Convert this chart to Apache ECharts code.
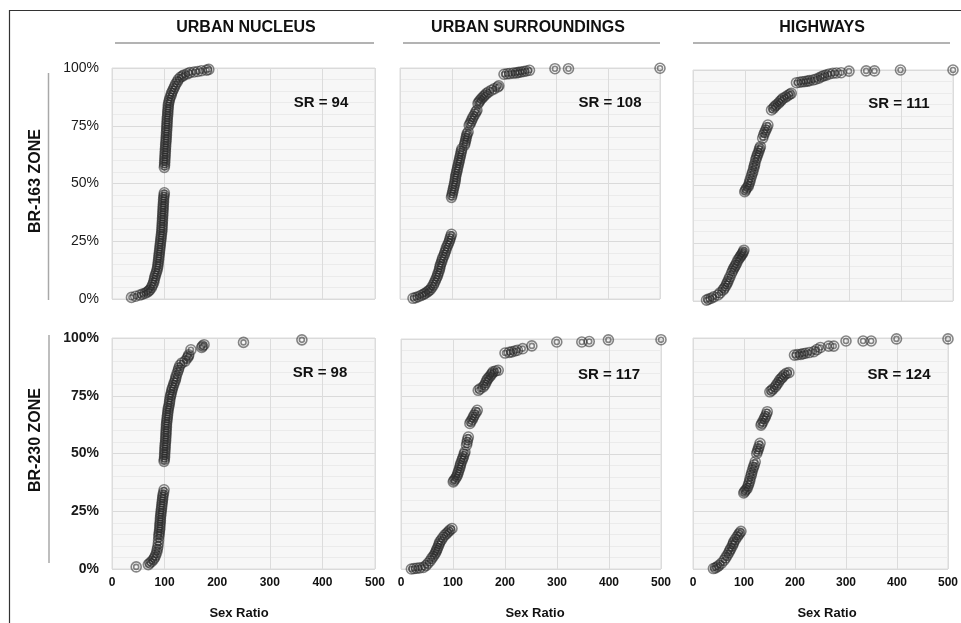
<!DOCTYPE html>
<html>
<head>
<meta charset="utf-8">
<script src="https://cdn.jsdelivr.net/npm/echarts@6/dist/echarts.min.js"></script>
<style>
html,body{margin:0;padding:0;background:#fff;}
#chart{width:961px;height:623px;}
</style>
</head>
<body>
<div id="chart"></div>
<script>
// ---- Data: [sex ratio, cumulative %] ----
const columnTitles = ['URBAN NUCLEUS', 'URBAN SURROUNDINGS', 'HIGHWAYS'];
const rowTitles = ['BR-163 ZONE', 'BR-230 ZONE'];
const srLabels = ['SR = 94', 'SR = 108', 'SR = 111', 'SR = 98', 'SR = 117', 'SR = 124'];
const xTicks = [0, 100, 200, 300, 400, 500];
const yTicks = [0, 25, 50, 75, 100];

const nucleus163 = [[37,0.7],[45,1.2],[53,1.7],[58,2.1],[63,2.5],[67,3],[70,3.5],[72,4],[75,5],[77,6],[79,7],[80,8],[81,9],[82,10],[83.5,11],[85,12],[86,13],[87,14],[87.5,15],[88,16],[88.5,17],[89,18],[89.5,19],[90,20],[90.5,21],[91,22],[91.5,23],[92,24],[92.5,25],[93,26],[93.5,27],[94,28],[94.5,29],[95,30],[95,31],[95.5,32],[95.5,33],[96,34],[96,35],[96.5,36],[96.5,37],[97,38],[97,39],[97.5,40],[97.5,41],[98,42],[98,43],[98.5,44],[99,45],[99.5,46],
[99.5,57],[100,58],[100,59],[100.5,60],[100.5,61],[101,62],[101,63],[101.5,64],[101.5,65],[102,66],[102,67],[102.5,68],[103,69],[103,70],[103.5,71],[103.5,72],[104,73],[104,74],[104.5,75],[104.5,76],[105,77],[105,78],[105.5,79],[106,80],[106,81],[106.5,82],[107,83],[107,84],[108,85],[109,86],[110,87],[112,88],[113,89],[115,90],[117,91],[119,92],[121,93],[124,94],[126,95],[130,96],[134,96.5],[137,97],[143,97.5],[148,98],[156,98.3],[163,98.5],[170,98.8],[180,99.1],[184,99.4]];

const surround163 = [[25,0.3],[30,0.6],[35,1],[40,1.5],[45,2],[48,2.4],[52,3],[55,3.5],[58,4],[61,5],[64,6],[66,7],[68,8],[70,9],[72,10],[73,11],[75,12],[76,13],[77,14],[78,15],[80,16],[81,17],[82.5,18],[85,19],[86,20],[88,21],[89,22],[91,23],[93,24],[95,25],[96,26],[97.5,27],[99,28],
[99,44],[100,45],[101,46],[102,47],[103,48],[104,49],[105,50],[106,51],[106.5,52],[107,53],[108,54],[109,55],[110,56],[111,57],[112,58],[113,59],[114,60],[115,61],[116,62],[117,63],[118,64],[119,65],
[124,66.6],[125,67.5],[126,68.5],[127,69.5],[128,70.5],[129,71.5],[131,72.3],
[133,75.2],[135,76],[137,77],[139,78],[141,79],[144,80],[146,81],[148,81.7],
[150,84.6],[152,85.3],[154,86],[157,86.8],[160,87.5],[163,88.2],[166,88.9],[170,89.6],[176,90.4],[181,91],[188,91.8],[190,92.3],
[200,97.3],[206,97.5],[211,97.6],[218,97.8],[224,97.9],[228,98.1],[233,98.3],[238,98.5],[243,98.7],[249,99],[298,99.7],[324,99.7],[500,99.9]];

const highway163 = [[26,0.4],[30,0.8],[35,1.2],[40,1.8],[48,2.6],[52,3.5],[58,4.8],[60,5.5],[63,6.5],[65,7.5],[67,8.4],[69,9.5],[71,10.5],[74,12],[76,13],[78,14],[80,14.8],[82,15.5],[84,16.5],[86.5,17.7],[89,18.5],[91,19.2],[93,19.9],[95,20.5],[96.5,21.2],[98,22],
[99.5,47.3],[101,48],[103,48.8],[106,49.5],[107.5,50.5],[109,51.5],[110,52.5],[112,53.8],[113.5,55],[115,56],[116.7,57.4],[118,58.5],[119,59.5],[120.6,61],[122,62],[123.5,63],[125,63.9],[127,65],[128,66],[129.6,66.8],
[134,70.5],[136,71.9],[138,73],[140,74],[142,75],[144,76.2],
[151,82.7],[155,83.5],[157,84.2],[160,84.8],[164,85.5],[167,86.3],[170,87],[173,87.7],[178,88.3],[182,88.9],[186,89.5],[189,89.9],
[199,94.5],[205,94.7],[210,94.9],[215,95],[220,95.2],[224,95.4],[231,95.7],[236,96],[242,96.5],[247,97.1],[251,97.5],[256,97.8],[262,98.3],[269,98.6],[276,98.7],[285,98.8],[300,99.5],[333,99.6],[349,99.6],[399,100],[500,100]];

const nucleus230 = [[46,0.9],[69,1.9],[72,2.6],[75.5,3.3],[79,4.2],[81,5],[83,6],[85,7.2],[86,8.4],[87,9.5],[88,11],[88.5,12.5],[89,14],[89.5,15],[90,16],[90.5,17],[91,18],[91,19],[91.5,20],[92,21],[92,22],[92.5,23],[93,24],[93.5,25],[94,26],[94.5,27],[95,28],[95.5,29],[96,30],[96.5,31],[97,32],[98,33],[99,34.3],
[99,46.6],[99.5,47.5],[100,48.5],[100,49.5],[100.5,50.5],[100.5,51.5],[101,52.5],[101,53.5],[101.5,54.5],[102,55.5],[102,56.5],[102.5,57.5],[102.5,58.5],[103,59.5],[103,60.5],[103.5,61.5],[103.5,62.5],[104,63.5],[104.5,64.5],[105,65.5],[105.5,66.5],[106,67.5],[106.5,68.5],[107,69.5],[108,70.4],[109,71.5],[109.5,72.5],[110,73.5],[111,74.7],[112,75.5],[113,76.5],[114,77.5],[115,78.4],[117,79.5],[118,80.5],[120,81.5],[121,82.5],[122,83.5],[124,84.8],[126,86],[127,87],[129,88.2],[133,89.2],[139,90],[143,91.3],[145,92],[146,92.7],[150,94.9],[170.5,95.9],[172,96.5],[175,97.1],[250,98.1],[361,99.2]];

const surround230 = [[20,0],[25,0.2],[30,0.3],[36,0.5],[43,0.7],[48,1.5],[52,2.5],[56,3.5],[59,4.6],[62,5.5],[65,6.5],[67,7.3],[68.5,8.2],[70,9],[72,10],[73.5,11],[75,11.9],[78,12.8],[81,13.8],[84.5,14.8],[88,15.5],[91,16.2],[94,16.9],[98,17.6],
[100.5,37.9],[102,38.5],[104.5,39.3],[107,40.1],[108.5,41],[110,42],[111.5,43],[113,44],[114,45],[115,45.9],[117,47],[118.5,48],[120,48.8],[121.5,50],[123,50.9],
[126,53.8],[127,55],[128,56.2],[129.5,57.4],
[132.5,63.3],[134.5,64.2],[137,65],[139,66],[141,66.9],[144,68],[146.6,69],
[148.5,77.7],[152,78.3],[158,79.2],[161,80],[163,81],[165,82],[167,82.8],[170,83.5],[173,84.3],[175,85],[177,85.7],[182,86.1],[187,86.4],
[200,93.9],[208,94.2],[213,94.4],[219,94.8],[224,95.1],[234,95.8],[251.6,97],[299.6,98.7],[347.7,98.7],[362,98.9],[398.8,99.6],[500,99.7]];

const highway230 = [[40,0.2],[44,0.5],[48,1],[51,1.6],[56,2.5],[61,3.8],[64,4.8],[67,5.9],[70,7],[72,8],[74,8.8],[77,10],[79,11],[80,11.7],[83,12.8],[86.5,13.9],[89,14.8],[91.5,15.5],[94,16.3],
[99.5,32.9],[101,33.5],[103.5,34.2],[106,34.8],[108,36],[109.5,37],[111,38],[112,39.2],[114,40.5],[115,41.5],[116.7,42.8],[118.5,44],[120,45],[122,46.4],
[125,50],[126.5,51],[128,52],[129.5,53],[131.5,54.4],
[133.4,62.3],[135,63],[137.5,64],[140,65.2],[142,66],[144,67],[145.6,68.1],
[150.7,76.7],[154,77.3],[157,78],[161.5,78.9],[164,79.8],[167,80.7],[170,81.8],[173,82.5],[176,83.2],[179,84],[183,84.7],[188,85],
[199,92.6],[205,92.8],[211.5,92.9],[216,93.2],[221,93.4],[228,93.7],[237,94.1],[243,95],[250,95.9],[266,96.5],[276,96.5],[300,98.7],[333.5,98.7],[349.4,98.7],[399,99.6],[500,99.6]];

const panelData = [nucleus163, surround163, highway163, nucleus230, surround230, highway230];

// ---- Layout ----
const FONT = '"Liberation Sans", Arial, sans-serif';
const grids = [
  {left:112, top:68, width:263, height:231},
  {left:400, top:68, width:260, height:231},
  {left:693, top:70, width:260, height:231},
  {left:112, top:338, width:263, height:231},
  {left:401, top:339, width:260, height:230},
  {left:693, top:338, width:260, height:231}
];
const srPos = [[321,103],[610,103],[899,104],[320,373],[609,375],[899,375]];
const ringSymbol = 'path://M0,-10A10,10,0,1,1,0,10A10,10,0,1,1,0,-10ZM0,-5A5,5,0,1,1,0,5A5,5,0,1,1,0,-5Z';

const option = {
  backgroundColor: '#ffffff',
  animation: false,
  grid: grids.map(g => Object.assign({show:true, backgroundColor:'#f7f7f7', borderColor:'#dcdcdc', borderWidth:1}, g)),
  xAxis: grids.map((g, i) => ({
    gridIndex: i, type:'value', min: xTicks[0], max: xTicks[xTicks.length-1], interval: 100,
    axisLine:{show:false}, axisTick:{show:false},
    axisLabel:{show: i >= 3, fontFamily: FONT, fontSize: 12, fontWeight:'bold', color:'#111', margin: 8},
    splitLine:{show:true, lineStyle:{color:'#dcdcdc', width:1}}
  })),
  yAxis: grids.map((g, i) => ({
    gridIndex: i, type:'value', min: yTicks[0], max: yTicks[yTicks.length-1], interval: 25,
    axisLine:{show:false}, axisTick:{show:false},
    axisLabel:{show: i % 3 === 0, formatter:'{value}%', fontFamily: FONT, fontSize: 14,
      fontWeight: i >= 3 ? 'bold' : 'normal', color:'#1a1a1a', margin: 13},
    splitLine:{show:true, lineStyle:{color:'#dadada', width:1}},
    minorTick:{show:false, splitNumber:5},
    minorSplitLine:{show:true, lineStyle:{color:'#ebebeb', width:1}}
  })),
  series: panelData.map((d, i) => ({
    type:'scatter', xAxisIndex:i, yAxisIndex:i, data:d, clip:false,
    symbol: ringSymbol, symbolSize: 10,
    itemStyle:{color:'rgba(0,0,0,0)', borderColor:'rgba(40,40,40,0.7)', borderWidth:1.6},
    emphasis:{disabled:true}
  })),
  graphic: [
    // outer frame (top and left edges)
    {type:'line', shape:{x1:9, y1:10.5, x2:961, y2:10.5}, style:{stroke:'#333', lineWidth:1.2}},
    {type:'line', shape:{x1:9.5, y1:10, x2:9.5, y2:623}, style:{stroke:'#333', lineWidth:1.2}},
    // column titles + underlines
    {type:'text', x:246, y:28, style:{text:columnTitles[0], font:'bold 16px '+FONT, fill:'#111', textAlign:'center', textVerticalAlign:'middle'}},
    {type:'text', x:528, y:28, style:{text:columnTitles[1], font:'bold 16px '+FONT, fill:'#111', textAlign:'center', textVerticalAlign:'middle'}},
    {type:'text', x:822, y:28, style:{text:columnTitles[2], font:'bold 16px '+FONT, fill:'#111', textAlign:'center', textVerticalAlign:'middle'}},
    {type:'line', shape:{x1:115, y1:43, x2:374, y2:43}, style:{stroke:'#9a9a9a', lineWidth:1.5}},
    {type:'line', shape:{x1:403, y1:43, x2:660, y2:43}, style:{stroke:'#9a9a9a', lineWidth:1.5}},
    {type:'line', shape:{x1:693, y1:43, x2:950, y2:43}, style:{stroke:'#9a9a9a', lineWidth:1.5}},
    // row titles + vertical lines
    {type:'text', x:36, y:181, rotation:Math.PI/2, style:{text:rowTitles[0], font:'bold 16px '+FONT, fill:'#111', textAlign:'center', textVerticalAlign:'middle'}},
    {type:'text', x:36, y:440, rotation:Math.PI/2, style:{text:rowTitles[1], font:'bold 16px '+FONT, fill:'#111', textAlign:'center', textVerticalAlign:'middle'}},
    {type:'line', shape:{x1:48.5, y1:73, x2:48.5, y2:300}, style:{stroke:'#a8a8a8', lineWidth:1.5}},
    {type:'line', shape:{x1:49, y1:335, x2:49, y2:563}, style:{stroke:'#a8a8a8', lineWidth:1.5}},
    // x-axis titles
    {type:'text', x:239, y:613, style:{text:'Sex Ratio', font:'bold 13px '+FONT, fill:'#111', textAlign:'center', textVerticalAlign:'middle'}},
    {type:'text', x:535, y:613, style:{text:'Sex Ratio', font:'bold 13px '+FONT, fill:'#111', textAlign:'center', textVerticalAlign:'middle'}},
    {type:'text', x:827, y:613, style:{text:'Sex Ratio', font:'bold 13px '+FONT, fill:'#111', textAlign:'center', textVerticalAlign:'middle'}}
  ].concat(srLabels.map((t, i) => ({
    type:'text', x:srPos[i][0], y:srPos[i][1], z:10,
    style:{text:t, font:'bold 15px '+FONT, fill:'#111', textAlign:'center', textVerticalAlign:'middle'}
  })))
};

const chart = echarts.init(document.getElementById('chart'), null, {renderer:'canvas'});
chart.setOption(option);
</script>
</body>
</html>
